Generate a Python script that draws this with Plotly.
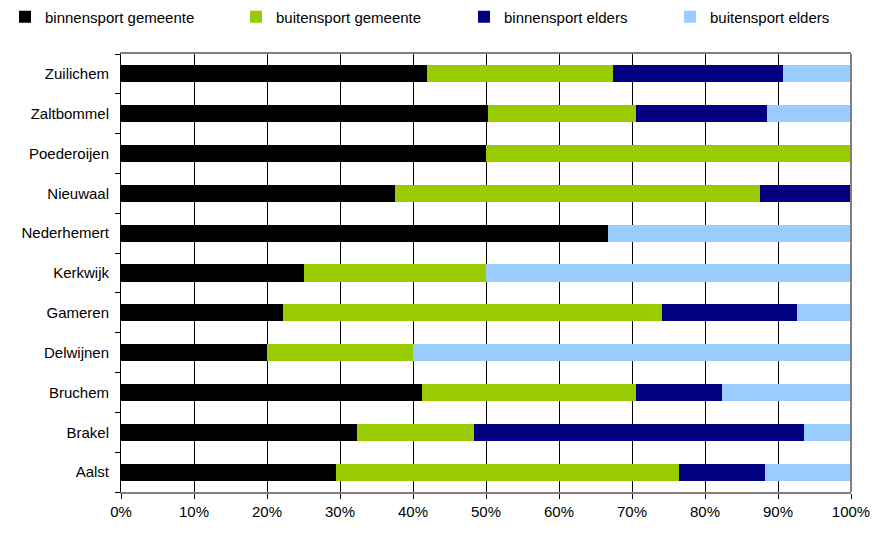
import plotly.graph_objects as go

categories = ["Aalst", "Brakel", "Bruchem", "Delwijnen", "Gameren", "Kerkwijk",
              "Nederhemert", "Nieuwaal", "Poederoijen", "Zaltbommel", "Zuilichem"]
binnensport_gemeente = [29.4, 32.3, 41.2, 20.0, 22.2, 25.0, 66.7, 37.5, 50.0, 50.3, 41.9]
buitensport_gemeente = [47.0, 16.1, 29.3, 20.0, 51.9, 25.0, 0.0, 50.0, 50.0, 20.2, 25.5]
binnensport_elders = [11.8, 45.2, 11.8, 0.0, 18.5, 0.0, 0.0, 12.5, 0.0, 18.0, 23.3]
buitensport_elders = [11.8, 6.4, 17.7, 60.0, 7.4, 50.0, 33.3, 0.0, 0.0, 11.5, 9.3]
x_tick_values = [0, 10, 20, 30, 40, 50, 60, 70, 80, 90, 100]
x_tick_labels = ["0%", "10%", "20%", "30%", "40%", "50%", "60%", "70%", "80%", "90%", "100%"]

series = [
    ("binnensport gemeente", binnensport_gemeente, "#000000", "legend"),
    ("buitensport gemeente", buitensport_gemeente, "#99CC00", "legend2"),
    ("binnensport elders", binnensport_elders, "#000080", "legend3"),
    ("buitensport elders", buitensport_elders, "#99CCFF", "legend4"),
]

W, H = 880, 543
L, R, T, B = 121, 29, 54, 51

fig = go.Figure()
for name, vals, color, lg in series:
    fig.add_trace(go.Bar(
        y=categories, x=vals, name=name, orientation="h",
        marker=dict(color=color, line=dict(width=0)),
        width=0.43, legend=lg,
    ))

font = dict(family="Liberation Sans, Arial, sans-serif", size=15, color="#000000")

legend_text_starts = [41, 272, 500, 706]
legends = {}
for i, ts in enumerate(legend_text_starts):
    key = "legend" if i == 0 else f"legend{i+1}"
    legends[key] = dict(
        xref="container", yref="container",
        x=(ts - 36) / W, xanchor="left", y=1 - 17 / H, yanchor="middle",
        orientation="h", font=font, bgcolor="rgba(0,0,0,0)",
        itemwidth=30, borderwidth=0,
    )

fig.update_layout(
    width=W, height=H,
    margin=dict(l=L, r=R, t=T, b=B, pad=0, autoexpand=False),
    barmode="stack",
    plot_bgcolor="#FFFFFF", paper_bgcolor="#FFFFFF",
    font=font,
    showlegend=True,
    **legends,
    xaxis=dict(
        range=[0, 100], tickvals=x_tick_values, ticktext=x_tick_labels,
        showgrid=True, gridcolor="#000000", gridwidth=1,
        showline=True, linecolor="#808080", linewidth=2, mirror=True,
        ticks="outside", ticklen=5, tickcolor="#000000", tickwidth=1,
        zeroline=False, tickfont=font, fixedrange=True, automargin=False,
    ),
    yaxis=dict(
        type="category", categoryorder="array", categoryarray=categories,
        showgrid=False, showline=True, linecolor="#000000", linewidth=1,
        ticks="outside", ticklen=5, tickcolor="#000000", tickson="boundaries",
        tickfont=font, zeroline=False, fixedrange=True, automargin=False,
        ticklabelstandoff=8,
    ),
    shapes=[dict(type="line", xref="paper", yref="paper", x0=1, x1=1, y0=0, y1=1,
                 line=dict(color="#808080", width=2))],
)

fig.write_html(
    "out.html",
    config={"displayModeBar": False},
    post_script="document.body.style.margin='0';document.body.style.overflow='hidden';",
)
